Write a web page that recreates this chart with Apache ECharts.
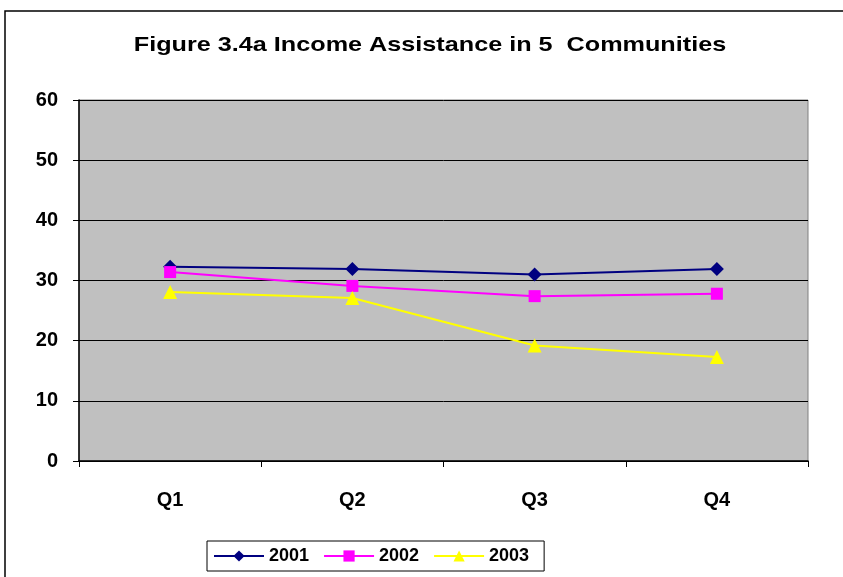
<!DOCTYPE html>
<html>
<head>
<meta charset="utf-8">
<script src="https://cdn.jsdelivr.net/npm/echarts@6/dist/echarts.min.js"></script>
<style>
  html, body { margin: 0; padding: 0; background: #fff; }
  #chart { width: 843px; height: 577px; }
</style>
</head>
<body>
<div id="chart"></div>
<script>
// Quarterly income assistance figures
const quarters = ['Q1', 'Q2', 'Q3', 'Q4'];
const values2001 = [32.3, 31.9, 31.0, 31.9];
const values2002 = [31.4, 29.1, 27.4, 27.8];
const values2003 = [28.1, 27.1, 19.2, 17.3];
const yTicks = { min: 0, max: 60, interval: 10 };
const chartTitle = 'Figure 3.4a Income Assistance in 5  Communities';

const chart = echarts.init(document.getElementById('chart'));
const font = 'Liberation Sans, Arial, sans-serif';

function lineSeries(name, data, color, symbol, size) {
  return {
    name, type: 'line', data,
    symbol, symbolSize: size,
    lineStyle: { color, width: 2 },
    itemStyle: { color },
    emphasis: { disabled: true },
    animation: false
  };
}

chart.setOption({
  animation: false,
  backgroundColor: '#ffffff',
  graphic: [
    {
      // outer frame of the chart area
      type: 'rect',
      shape: { x: 5, y: 11, width: 900, height: 620 },
      style: { fill: 'none', stroke: '#000', lineWidth: 1.5 },
      z: -1
    },
    {
      // title, drawn slightly widened
      type: 'text',
      x: 430, y: 45,
      scaleX: 1.2,
      style: {
        text: chartTitle,
        font: 'bold 21px ' + font,
        fill: '#000',
        align: 'center',
        verticalAlign: 'middle'
      }
    }
  ],
  grid: {
    left: 79, top: 100, right: 35, bottom: 116,
    show: true, backgroundColor: '#c0c0c0', borderColor: '#808080', borderWidth: 1
  },
  legend: {
    top: 541, left: 207,
    data: ['2001', '2002', '2003'],
    itemWidth: 50, itemHeight: 14, itemGap: 14,
    borderColor: '#000', borderWidth: 1, borderRadius: 0,
    padding: [6, 15, 6, 6],
    textStyle: { fontFamily: font, fontSize: 18, fontWeight: 'bold', color: '#000' }
  },
  xAxis: {
    type: 'category', data: quarters, boundaryGap: true,
    axisLine: { lineStyle: { color: '#000', width: 1.5 } },
    axisTick: { show: true, length: 6, inside: false, lineStyle: { color: '#000' } },
    axisLabel: { margin: 29, fontFamily: font, fontSize: 20, fontWeight: 'bold', color: '#000' },
    splitLine: { show: false }
  },
  yAxis: {
    type: 'value', min: yTicks.min, max: yTicks.max, interval: yTicks.interval,
    axisLine: { show: true, lineStyle: { color: '#000', width: 1.5 } },
    axisTick: { show: true, length: 6, lineStyle: { color: '#000' } },
    axisLabel: { margin: 21, fontFamily: font, fontSize: 20, fontWeight: 'bold', color: '#000' },
    splitLine: { show: true, lineStyle: { color: '#000', width: 1 } }
  },
  series: [
    lineSeries('2001', values2001, '#000080', 'diamond', 14),
    lineSeries('2002', values2002, '#ff00ff', 'rect', 12),
    lineSeries('2003', values2003, '#ffff00', 'triangle', 14)
  ]
});
</script>
</body>
</html>
